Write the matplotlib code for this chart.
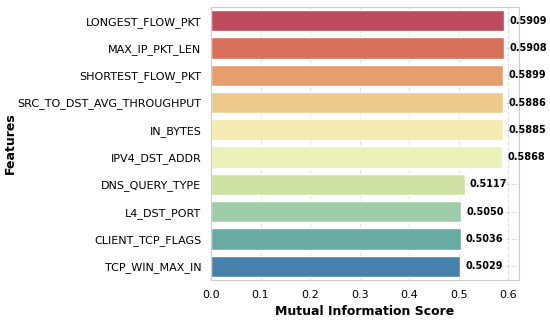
import matplotlib
matplotlib.use("Agg")
import matplotlib.pyplot as plt
import seaborn as sns

features = ["LONGEST_FLOW_PKT", "MAX_IP_PKT_LEN", "SHORTEST_FLOW_PKT",
            "SRC_TO_DST_AVG_THROUGHPUT", "IN_BYTES", "IPV4_DST_ADDR",
            "DNS_QUERY_TYPE", "L4_DST_PORT", "CLIENT_TCP_FLAGS", "TCP_WIN_MAX_IN"]
scores = [0.5909, 0.5908, 0.5899, 0.5886, 0.5885, 0.5868,
          0.5117, 0.5050, 0.5036, 0.5029]

sns.set_style("whitegrid")
fig = plt.figure(figsize=(5.5, 3.21), dpi=100)
ax = fig.add_axes([0.3836, 0.128, 0.56, 0.85])

# seaborn barplot default saturation
colors = [sns.desaturate(c, 0.75) for c in sns.color_palette("Spectral", len(features))]
ax.barh(features, scores, color=colors, height=0.78)
ax.set_ylim(len(features) - 0.5, -0.5)

for i, v in enumerate(scores):
    ax.text(v + 0.011, i, f"{v:.4f}", va="center", ha="left",
            fontsize=7, fontweight="bold", color="black")

ax.set_xlim(0, max(scores) * 1.052)
ax.set_xlabel("Mutual Information Score", fontsize=9, fontweight="bold",
              color="black", labelpad=4)
ax.set_ylabel("Features", fontsize=9, fontweight="bold", color="black", labelpad=0)
ax.tick_params(labelsize=8, length=0, pad=7, labelcolor="black")
ax.grid(True, linestyle="--", alpha=0.6)
ax.set_axisbelow(True)
for s in ax.spines.values():
    s.set_color("#cccccc")

plt.savefig("out.png", dpi=100)
